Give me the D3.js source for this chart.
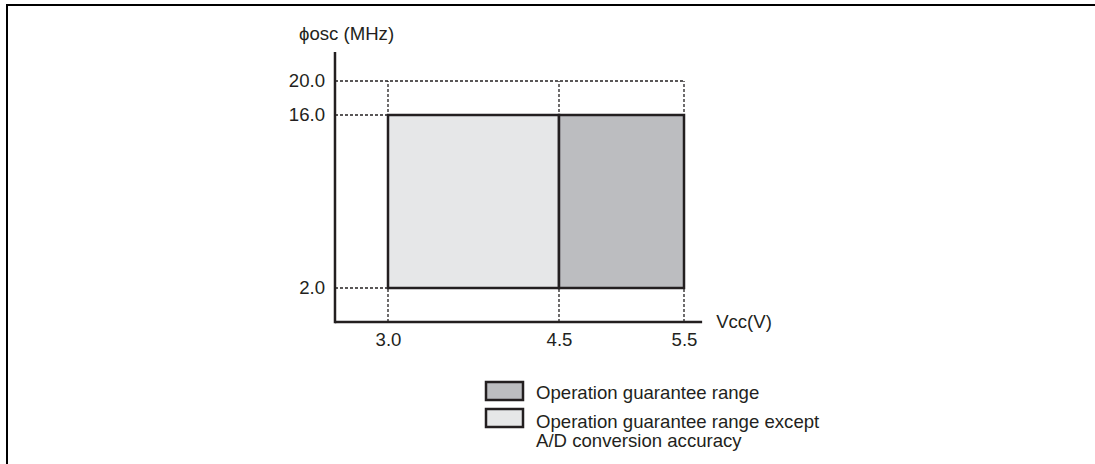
<!DOCTYPE html>
<html>
<head>
<meta charset="utf-8">
<script src="https://cdn.jsdelivr.net/npm/d3@7"></script>
<style>
  body { margin: 0; background: #fff; }
  text { font-family: "Liberation Sans", Arial, Helvetica, sans-serif; fill: #231f20; }
</style>
</head>
<body>
<div id="chart"></div>
<script>
// tick values on each axis (the axes in the source are not to scale)
var xTicks = [3.0, 4.5, 5.5];
var yTicks = [2.0, 16.0, 20.0];
var xTickLabels = ["3.0", "4.5", "5.5"];
var yTickLabels = ["2.0", "16.0", "20.0"];

// operating regions: Vcc from..to, fosc from..to
var regions = [
  {name: "except", x0: 3.0, x1: 4.5, y0: 2.0, y1: 16.0, fill: "#e6e7e8"},
  {name: "full",   x0: 4.5, x1: 5.5, y0: 2.0, y1: 16.0, fill: "#bcbdc0"}
];

var legendItems = [
  {fill: "#bcbdc0", lines: ["Operation guarantee range"]},
  {fill: "#e6e7e8", lines: ["Operation guarantee range except", "A/D conversion accuracy"]}
];

var xTitle = "Vcc(V)";
var yTitle = "\u03d5osc (MHz)";

var W = 1095, H = 464;
var ink = "#231f20";
var fs = "18.6px";

var svg = d3.select("#chart").append("svg")
  .attr("width", W).attr("height", H);

// outer frame (only top and left edges visible)
svg.append("path")
  .attr("d", "M7," + H + " V5 H" + W)
  .attr("fill", "none").attr("stroke", "#000").attr("stroke-width", 2);

// piecewise scales, like the hand drawn figure
var xScale = d3.scaleLinear()
  .domain([3.0, 4.5, 5.5])
  .range([388, 559, 684]);

var yScale = d3.scaleLinear()
  .domain([0, 2.0, 16.0, 20.0])
  .range([322, 288, 115, 81]);

var xMin = 2.535, xMax = 5.645;  // ends of the drawn axis line
var yMax = 23.4;

// dotted guide lines
var g = svg.append("g");

function dotted(x1, y1, x2, y2) {
  g.append("line")
    .attr("x1", xScale(x1)).attr("y1", yScale(y1))
    .attr("x2", xScale(x2)).attr("y2", yScale(y2))
    .attr("stroke", ink)
    .attr("stroke-width", 1.3)
    .attr("stroke-dasharray", "3,2");
}
yTicks.forEach(function(v) {
  dotted(xMin, v, v == 20.0 ? 5.5 : 3.0, v);
});
xTicks.forEach(function(v) {
  dotted(v, 0, v, 20.0);
});

// regions
svg.selectAll("rect.region")
  .data(regions)
  .enter()
  .append("rect")
  .attr("class", "region")
  .attr("x", function(d) { return xScale(d.x0); })
  .attr("y", function(d) { return yScale(d.y1); })
  .attr("width", function(d) { return xScale(d.x1) - xScale(d.x0); })
  .attr("height", function(d) { return yScale(d.y0) - yScale(d.y1); })
  .attr("fill", function(d) { return d.fill; })
  .attr("stroke", ink)
  .attr("stroke-width", 2.5);

// axes
var xAxis = d3.axisBottom(xScale)
  .tickValues(xTicks)
  .tickFormat(function(d, i) { return xTickLabels[i]; })
  .tickSize(0)
  .tickPadding(11);

var yAxis = d3.axisLeft(yScale)
  .tickValues(yTicks)
  .tickFormat(function(d, i) { return yTickLabels[i]; })
  .tickSize(0)
  .tickPadding(10);

var gx = svg.append("g")
  .attr("transform", "translate(0," + yScale(0) + ")")
  .call(xAxis);
gx.select(".domain").remove();
gx.append("line")
  .attr("x1", xScale(xMin)).attr("x2", xScale(xMax))
  .attr("stroke", ink).attr("stroke-width", 2.5);

var gy = svg.append("g")
  .attr("transform", "translate(" + xScale(xMin) + ",0)")
  .call(yAxis);
gy.select(".domain").remove();
gy.append("line")
  .attr("y1", yScale(0) + 1.2).attr("y2", yScale(yMax))
  .attr("stroke", ink).attr("stroke-width", 2.5);

svg.selectAll(".tick text")
  .attr("fill", ink)
  .style("font-size", fs)
  .style("font-family", "'Liberation Sans', Arial, sans-serif");

// titles
svg.append("text")
  .attr("x", xScale(xMax) + 14).attr("y", yScale(0) + 6)
  .style("font-size", fs)
  .text(xTitle);

svg.append("text")
  .attr("x", xScale(xMin) - 36).attr("y", 40)
  .style("font-size", fs)
  .text(yTitle);

// legend
var lg = svg.append("g").attr("transform", "translate(486,382)");
legendItems.forEach(function(d, r) {
  var rowY = r * 27;
  lg.append("rect")
    .attr("x", 0).attr("y", rowY)
    .attr("width", 37).attr("height", 18)
    .attr("fill", d.fill)
    .attr("stroke", ink).attr("stroke-width", 2.5);
  d.lines.forEach(function(t, i) {
    lg.append("text")
      .attr("x", 50).attr("y", rowY + 16.5 + r * 2.5 + i * 19)
      .style("font-size", fs)
      .text(t);
  });
});
</script>
</body>
</html>
